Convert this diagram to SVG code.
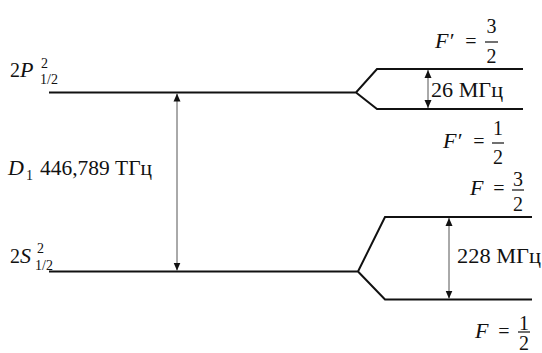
<svg xmlns="http://www.w3.org/2000/svg" width="542" height="353" viewBox="0 0 542 353">
<style>
text{font-family:"Liberation Serif","DejaVu Serif",serif;font-size:20px;fill:#111}
.i{font-style:italic;font-size:22px}
.s{font-size:14px}
.m{text-anchor:middle}
.lvl{fill:none;stroke:#111;stroke-width:2}
.arr{stroke:#555;stroke-width:1;marker-start:url(#ah);marker-end:url(#ah)}
.bar{stroke:#111;stroke-width:1.2}
</style>
<defs>
<marker id="ah" viewBox="0 0 8 8" refX="8" refY="4" markerWidth="8" markerHeight="8" markerUnits="userSpaceOnUse" orient="auto-start-reverse">
<path d="M0,0.5 L8,4 L0,7.5 Z" fill="#111"/>
</marker>
</defs>
<g id="connectors">
<path class="lvl" d="M49,92.5 H356 L377,69 H523 M356,92.5 L377,109 H523"/>
<path class="lvl" d="M49,271.5 H358 L385,217 H532 M358,271.5 L385,299.5 H532"/>
<line class="arr" x1="177" y1="93.5" x2="177" y2="270.5"/>
<line class="arr" x1="428" y1="70" x2="428" y2="108"/>
<line class="arr" x1="449" y1="218" x2="449" y2="298.5"/>
</g>
<g id="level-2P">
<text x="10" y="77">2<tspan class="i">P</tspan></text>
<text class="s" x="41" y="68">2</text>
<text class="s" x="40" y="84">1/2</text>
</g>
<g id="level-2S">
<text x="10" y="263">2<tspan class="i">S</tspan></text>
<text class="s" x="37" y="253">2</text>
<text class="s" x="35" y="270">1/2</text>
</g>
<g id="label-D1">
<text class="i" x="8" y="175">D</text>
<text class="s" x="26" y="180">1</text>
<text x="40" y="175" textLength="112" lengthAdjust="spacingAndGlyphs">446,789 ТГц</text>
</g>
<g id="label-26">
<text x="431" y="97" textLength="72" lengthAdjust="spacingAndGlyphs">26 МГц</text>
</g>
<g id="label-228">
<text x="457" y="263" textLength="84" lengthAdjust="spacingAndGlyphs">228 МГц</text>
</g>
<g id="F-prime-3-2">
<text class="i" x="435" y="48">F′</text>
<text class="m" x="471" y="48">=</text>
<line class="bar" x1="485" y1="42" x2="498" y2="42"/>
<text class="m" x="491.5" y="33">3</text>
<text class="m" x="491.5" y="63">2</text>
</g>
<g id="F-prime-1-2">
<text class="i" x="443" y="148">F′</text>
<text class="m" x="479" y="148">=</text>
<line class="bar" x1="492" y1="143" x2="504" y2="143"/>
<text class="m" x="498" y="135">1</text>
<text class="m" x="498" y="164">2</text>
</g>
<g id="F-3-2">
<text class="i" x="470" y="195">F</text>
<text class="m" x="499" y="195">=</text>
<line class="bar" x1="512" y1="190" x2="524" y2="190"/>
<text class="m" x="518" y="186">3</text>
<text class="m" x="518" y="211">2</text>
</g>
<g id="F-1-2">
<text class="i" x="475" y="338">F</text>
<text class="m" x="504" y="338">=</text>
<line class="bar" x1="518" y1="332" x2="530" y2="332"/>
<text class="m" x="524" y="330">1</text>
<text class="m" x="524" y="350">2</text>
</g>
</svg>
